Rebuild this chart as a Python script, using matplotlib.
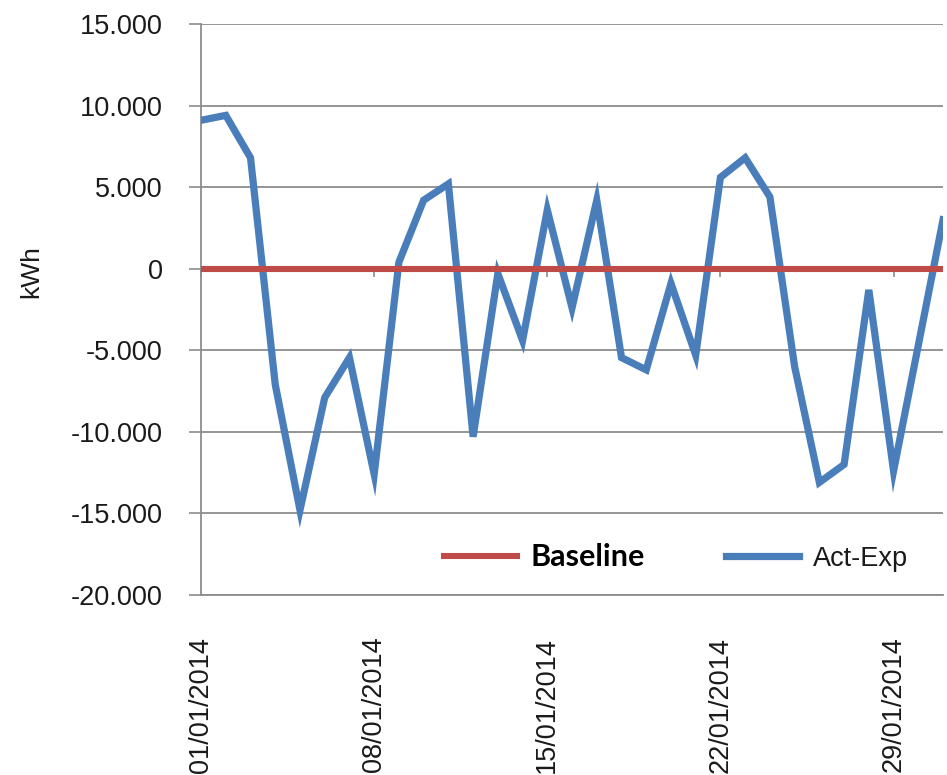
import matplotlib
matplotlib.use("Agg")
import matplotlib.pyplot as plt
import matplotlib.dates as mdates
from matplotlib.ticker import FuncFormatter
import pandas as pd

# Daily difference between actual and expected consumption, January 2014
days = pd.date_range("2014-01-01", "2014-01-31", freq="D")
act_exp = [9100, 9400, 6800, -7100, -14800, -7900, -5450, -12600, 400, 4200,
           5200, -10300, -300, -4400, 3600, -2400, 4200, -5450, -6200, -900,
           -5300, 5600, 6800, 4400, -6000, -13100, -12000, -1300, -12400, -4700,
           3000]
baseline = [0] * len(days)
tick_days = ["2014-01-01", "2014-01-08", "2014-01-15", "2014-01-22", "2014-01-29"]
y_ticks = [-20000, -15000, -10000, -5000, 0, 5000, 10000, 15000]

BLUE = "#4a7ebb"
RED = "#be4b48"
GRID = "#8c8c8c"
TEXT = "#1a1a1a"

plt.rcParams["font.family"] = ["Liberation Sans", "DejaVu Sans"]

fig = plt.figure(figsize=(9.47, 7.75), dpi=100)
ax = fig.add_axes([0.2123, 0.2323, 0.7835, 0.7367])

ax.plot(days, act_exp, color=BLUE, lw=5.2, solid_joinstyle="miter",
        label="Act-Exp", zorder=3)
ax.plot(days, baseline, color=RED, lw=4.4, label="Baseline", zorder=4)

ax.set_xlim(days[0], days[-1])
ax.set_ylim(-20000, 15000)
ax.set_yticks(y_ticks)
ax.yaxis.set_major_formatter(
    FuncFormatter(lambda v, _: f"{v:,.0f}".replace(",", ".")))
ax.yaxis.grid(True, color=GRID, lw=1.3)
ax.set_axisbelow(True)

ticks = [mdates.date2num(pd.Timestamp(d)) for d in tick_days]
ax.set_xticks(ticks)
ax.xaxis.set_major_formatter(mdates.DateFormatter("%d/%m/%Y"))
ax.tick_params(axis="x", length=0, pad=30, labelsize=19.5, labelrotation=90,
               labelcolor=TEXT)
ax.tick_params(axis="y", length=8.5, width=1.2, color=GRID, pad=19,
               labelsize=19.5, labelcolor=TEXT)

for side in ("top", "right"):
    ax.spines[side].set_visible(False)
for side in ("left", "bottom"):
    ax.spines[side].set_color(GRID)
    ax.spines[side].set_linewidth(1.3)

# the category axis crosses at zero: its tick marks sit on the baseline
zero_axis = ax.secondary_xaxis(20000 / 35000)
zero_axis.set_xticks(ticks)
zero_axis.tick_params(axis="x", direction="out", length=6, width=1.2,
                      color=GRID, labelbottom=False, labeltop=False,
                      bottom=True, top=False)
zero_axis.spines["bottom"].set_visible(False)
zero_axis.spines["top"].set_visible(False)

ax.set_ylabel("kWh", fontsize=19, color=TEXT)
ax.yaxis.set_label_coords(-0.212, 0.567)

handles, labels = ax.get_legend_handles_labels()
leg = ax.legend(handles[::-1], labels[::-1], loc="center",
                bbox_to_anchor=(0.64, 0.066), ncol=2, frameon=False,
                fontsize=19.5, handlelength=2.7, handletextpad=0.5,
                columnspacing=3.0, borderpad=0)
leg.get_texts()[0].set_fontfamily(["Lato", "DejaVu Sans"])
leg.get_texts()[0].set_fontweight("bold")
leg.get_texts()[0].set_fontsize(22)
leg.get_texts()[0].set_color("black")
leg.get_texts()[1].set_color(TEXT)

fig.savefig("out.png", dpi=100)
plt.close(fig)
